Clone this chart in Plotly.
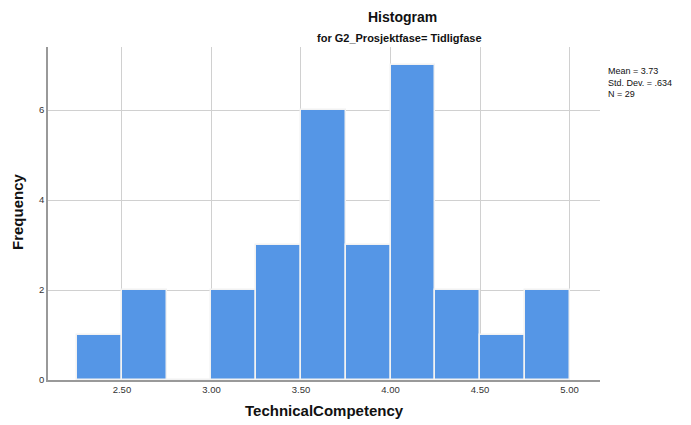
import plotly.graph_objects as go

bin_left = [2.25, 2.50, 2.75, 3.00, 3.25, 3.50, 3.75, 4.00, 4.25, 4.50, 4.75]
bin_width = 0.25
counts = [1, 2, 0, 2, 3, 6, 3, 7, 2, 1, 2]
x_ticks = [2.5, 3.0, 3.5, 4.0, 4.5, 5.0]
x_tick_labels = ["2.50", "3.00", "3.50", "4.00", "4.50", "5.00"]
y_ticks = [0, 2, 4, 6]
stats_text = "Mean = 3.73<br>Std. Dev. = .634<br>N = 29"

centers = [b + bin_width / 2 for b in bin_left]

L, R, T, B = 48, 91, 47, 45
PW, PH = 691 - L - R, 425 - T - B

def px_x(p):
    return (p - L) / PW

def px_y(p):
    return 1 - (p - T) / PH

fig = go.Figure()
fig.add_trace(go.Bar(
    x=centers, y=counts, width=[bin_width] * len(counts),
    marker=dict(color="#5596E6", line=dict(color="#f2f2f2", width=1.5)),
    showlegend=False,
))

font_main = "Liberation Sans, Arial, sans-serif"
fig.update_layout(
    width=691, height=425,
    margin=dict(l=L, r=R, t=T, b=B, autoexpand=False),
    plot_bgcolor="white", paper_bgcolor="white",
    font=dict(family=font_main, color="#222"),
    bargap=0,
    xaxis=dict(
        range=[2.087, 5.17], tickvals=x_ticks, ticktext=x_tick_labels,
        showgrid=True, gridcolor="#d0d0d0", gridwidth=1,
        showline=True, linecolor="#999999", linewidth=1.5,
        ticks="", tickfont=dict(size=9.5, color="#333"),
        zeroline=False, automargin=False,
    ),
    yaxis=dict(
        range=[0, 7.4], tickvals=y_ticks,
        showgrid=True, gridcolor="#d0d0d0", gridwidth=1,
        showline=True, linecolor="#999999", linewidth=1.5,
        ticks="", tickfont=dict(size=9.5, color="#333"),
        zeroline=False, automargin=False,
    ),
    annotations=[
        dict(text="<b>Histogram</b>", xref="paper", yref="paper",
             x=px_x(402), y=px_y(17), xanchor="center", yanchor="middle",
             showarrow=False, font=dict(size=14, color="#111")),
        dict(text="<b>for G2_Prosjektfase= Tidligfase</b>", xref="paper", yref="paper",
             x=px_x(400), y=px_y(38), xanchor="center", yanchor="middle",
             showarrow=False, font=dict(size=11, color="#111")),
        dict(text="<b>TechnicalCompetency</b>", xref="paper", yref="paper",
             x=px_x(324), y=px_y(410), xanchor="center", yanchor="middle",
             showarrow=False, font=dict(size=15, color="#111")),
        dict(text="<b>Frequency</b>", xref="paper", yref="paper",
             x=px_x(17), y=px_y(212), xanchor="center", yanchor="middle",
             textangle=-90, showarrow=False, font=dict(size=15, color="#111")),
        dict(text=stats_text, xref="paper", yref="paper",
             x=px_x(606), y=px_y(64), xanchor="left", yanchor="top",
             align="left", showarrow=False, font=dict(size=9, color="#111")),
    ],
)

fig.write_html("out.html", config={"displayModeBar": False},
               post_script="document.body.style.margin='0px';document.body.style.padding='0px';")
